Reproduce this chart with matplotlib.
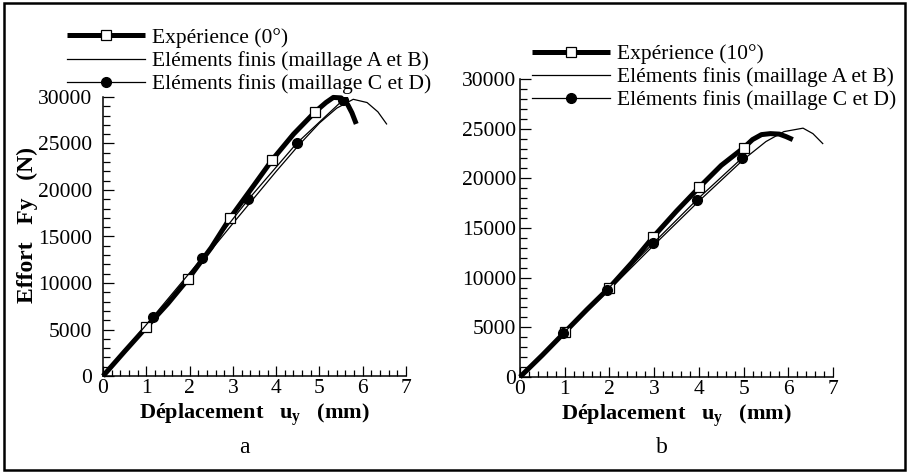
"""Effort Fy vs déplacement uy: expérience vs éléments finis, at 0° (a) and 10° (b)."""
import matplotlib
matplotlib.use("Agg")
import matplotlib.pyplot as plt
from matplotlib.patches import Rectangle
from matplotlib.ticker import MultipleLocator

plt.rcParams["font.family"] = ["Liberation Serif", "DejaVu Serif"]
plt.rcParams["mathtext.fontset"] = "custom"
plt.rcParams["mathtext.rm"] = "Liberation Serif"
plt.rcParams["mathtext.bf"] = "Liberation Serif:bold"

# --- panel a : 0 degrees ---
EXP0_X = [0, 0.5, 1.0, 1.5, 1.97, 2.5, 2.93, 3.5, 3.91, 4.4, 4.9, 5.15, 5.32, 5.5, 5.65, 5.75, 5.85]
EXP0_Y = [0, 2650, 5250, 7800, 10450, 13800, 16950, 20600, 23250, 26000, 28400, 29400, 29950, 29900, 29200, 28300, 27100]
EXP0_MARK = [2, 4, 6, 8, 10]
AB0_X = [0, 1, 2, 3, 4, 4.5, 5, 5.4, 5.78, 6.1, 6.35, 6.55]
AB0_Y = [0, 5300, 10700, 16400, 22000, 24700, 27200, 28800, 29750, 29400, 28400, 27100]
CD0_X = [0, 1.16, 2.29, 3.36, 4.47, 5.55]
CD0_Y = [0, 6400, 12700, 19000, 25000, 29700]

# --- panel b : 10 degrees ---
EXP10_X = [0, 0.5, 1, 1.5, 2, 2.5, 2.98, 3.5, 4.01, 4.5, 5.01, 5.2, 5.4, 5.6, 5.8, 5.95, 6.1]
EXP10_Y = [0, 2200, 4500, 6800, 9000, 11500, 14100, 16700, 19100, 21300, 23100, 23900, 24400, 24500, 24450, 24200, 23900]
EXP10_MARK = [2, 4, 6, 8, 10]
AB10_X = [0, 1, 2, 3, 4, 5, 5.5, 5.9, 6.33, 6.55, 6.77]
AB10_Y = [0, 4400, 8800, 13300, 17700, 21900, 23700, 24700, 25050, 24500, 23500]
CD10_X = [0, 0.97, 1.94, 2.98, 3.95, 4.96]
CD10_Y = [0, 4400, 8760, 13460, 17820, 22020]

LABELS_0 = ["Expérience (0°)", "Eléments finis (maillage A et B)", "Eléments finis (maillage C et D)"]
LABELS_10 = ["Expérience (10°)", "Eléments finis (maillage A et B)", "Eléments finis (maillage C et D)"]

fig = plt.figure(figsize=(9.1, 4.73), dpi=100)
fig.patches.append(Rectangle((0.004, 0.006), 0.991, 0.987, transform=fig.transFigure,
                             fill=False, lw=1.8, ec="k"))

ax_a = fig.add_axes([0.1132, 0.205, 0.333, 0.590])
ax_b = fig.add_axes([0.5714, 0.203, 0.344, 0.630])


def draw(ax, ex, ey, emark, abx, aby, cdx, cdy):
    h1, = ax.plot(ex, ey, color="k", lw=3.6, marker="s", ms=7.5, mfc="w", mec="k", mew=0.9,
                  markevery=emark, clip_on=False, solid_capstyle="butt", zorder=3)
    h2, = ax.plot(abx, aby, color="k", lw=0.9, zorder=2)
    h3, = ax.plot(cdx, cdy, color="k", lw=0.9, marker="o", ms=7, mfc="k", mec="k",
                  markevery=list(range(1, len(cdx))), zorder=4)
    ax.set_xlim(0, 7)
    ax.set_ylim(0, 30000)
    for s in ("top", "right"):
        ax.spines[s].set_visible(False)
    for s in ("left", "bottom"):
        ax.spines[s].set_linewidth(1.1)
    ax.xaxis.set_major_locator(MultipleLocator(1))
    ax.xaxis.set_minor_locator(MultipleLocator(0.2))
    ax.yaxis.set_major_locator(MultipleLocator(5000))
    ax.yaxis.set_minor_locator(MultipleLocator(1000))
    ax.tick_params(which="both", direction="in", width=0.9, labelsize=15.5)
    ax.tick_params(axis="x", which="major", length=7, pad=2)
    ax.tick_params(axis="x", which="minor", length=4)
    ax.tick_params(axis="y", which="major", length=8)
    ax.tick_params(axis="y", which="minor", length=5)
    ax.set_xlabel("Déplacement   $\\mathbf{u_y}$   (mm)", fontsize=16, fontweight="bold", labelpad=3)
    return [h1, h2, h3]


ha = draw(ax_a, EXP0_X, EXP0_Y, EXP0_MARK, AB0_X, AB0_Y, CD0_X, CD0_Y)
hb = draw(ax_b, EXP10_X, EXP10_Y, EXP10_MARK, AB10_X, AB10_Y, CD10_X, CD10_Y)
ax_a.tick_params(axis="y", which="major", pad=8)
ax_b.tick_params(axis="y", which="major", pad=3)
ax_a.set_ylabel("Effort   Fy   (N)", fontsize=17, fontweight="bold")
ax_a.yaxis.set_label_coords(-0.215, 0.54)

ax_a.legend(ha, LABELS_0, loc="upper left", bbox_to_anchor=(0.074, 0.941),
            bbox_transform=fig.transFigure, frameon=False, fontsize=15.5, numpoints=1,
            handlelength=3.6, handletextpad=0.33, labelspacing=0.14, borderpad=0,
            borderaxespad=0)
ax_b.legend(hb, LABELS_10, loc="upper left", bbox_to_anchor=(0.585, 0.907),
            bbox_transform=fig.transFigure, frameon=False, fontsize=15.5, numpoints=1,
            handlelength=3.6, handletextpad=0.33, labelspacing=0.14, borderpad=0,
            borderaxespad=0)

fig.text(0.269, 0.053, "a", fontsize=17, ha="center", va="center")
fig.text(0.727, 0.053, "b", fontsize=17, ha="center", va="center")

fig.savefig("out.png", dpi=100)
